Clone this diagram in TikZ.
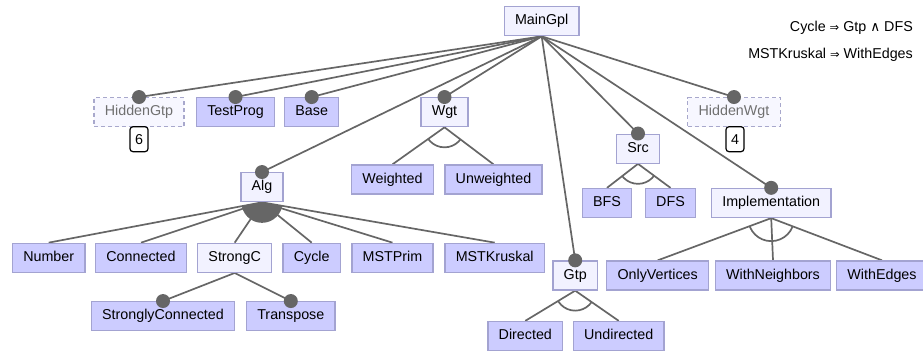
\documentclass[tikz,border=0pt]{standalone}
\usepackage{fontspec}
\setmainfont{Liberation Sans}
\newfontfamily\symfont{DejaVu Sans}[Scale=0.8]
\newfontfamily\andfont{DejaVu Sans}[Scale=0.95]
\usetikzlibrary{backgrounds}
\definecolor{concf}{HTML}{CCCCFF}
\definecolor{abstf}{HTML}{F2F2FF}
\definecolor{hidf}{HTML}{F7F7FF}
\definecolor{bord}{HTML}{A3A3D1}
\definecolor{hidb}{HTML}{A8A8CC}
\definecolor{hidt}{HTML}{707070}
\definecolor{edgec}{HTML}{666666}
\tikzset{
  feat/.style={draw=bord, line width=1.3pt, minimum height=29pt, inner xsep=10.8pt, inner ysep=0pt,
    font=\fontsize{14.3}{17}\selectfont, text height=10.3pt, text depth=3pt},
  conc/.style={feat, fill=concf},
  abst/.style={feat, fill=abstf},
  hid/.style={feat, fill=hidf, draw=hidb, dash pattern=on 4pt off 3pt, text=hidt},
  cnt/.style={draw=black, line width=1.2pt, rounded corners=3pt, fill=white, minimum width=18pt,
    minimum height=25pt, inner sep=0pt, font=\fontsize{14.3}{17}\selectfont},
  con/.style={draw=edgec, line width=1.7pt},
  cstr/.style={anchor=east, inner sep=0pt, font=\fontsize{14.3}{17}\selectfont},
}
\newcommand{\mdot}[1]{\fill[edgec] (#1.north) circle[radius=7pt];}
\begin{document}
\begin{tikzpicture}[x=1pt,y=-1pt]
\useasboundingbox (0,0) rectangle (923,352);
% features
\node[abst] (MainGpl) at (541.7,21.2) {MainGpl};
\node[hid] (HiddenGtp) at (139,112.2) {HiddenGtp};
\node[conc] (TestProg) at (235.5,112.2) {TestProg};
\node[conc] (Base) at (311.7,112.2) {Base};
\node[abst] (Wgt) at (444.5,112.2) {Wgt};
\node[hid] (HiddenWgt) at (734,112.2) {HiddenWgt};
\node[cnt] (c6) at (139,139.2) {6};
\node[cnt] (c4) at (735,139.2) {4};
\node[abst] (Alg) at (262,187.2) {Alg};
\node[conc] (Weighted) at (392.5,179.5) {Weighted};
\node[conc] (Unweighted) at (493.5,179.5) {Unweighted};
\node[abst] (Src) at (638,148.7) {Src};
\node[conc] (BFS) at (607,203) {BFS};
\node[conc] (DFS) at (670.5,203) {DFS};
\node[abst] (Impl) at (771.2,203) {Implementation};
\node[conc] (Number) at (48.7,257.8) {Number};
\node[conc] (Connected) at (141,257.8) {Connected};
\node[abst] (StrongC) at (234.7,257.8) {StrongC};
\node[conc] (Cycle) at (311.7,257.8) {Cycle};
\node[conc] (MSTPrim) at (392.5,257.8) {MSTPrim};
\node[conc] (MSTKruskal) at (494.7,257.8) {MSTKruskal};
\node[abst] (Gtp) at (575.2,275.5) {Gtp};
\node[conc] (OnlyVertices) at (657.7,275.5) {OnlyVertices};
\node[conc] (WithNeighbors) at (773,275.5) {WithNeighbors};
\node[conc] (WithEdges) at (882,275.5) {WithEdges};
\node[conc] (StronglyConnected) at (163,316.2) {StronglyConnected};
\node[conc] (Transpose) at (290.8,316.2) {Transpose};
\node[conc] (Directed) at (525.3,336) {Directed};
\node[conc] (Undirected) at (618.7,336) {Undirected};
% constraints
\node[cstr] (k1) at (913,28) {Cycle {\symfont ⇒} Gtp {\andfont ∧} DFS};
\node[cstr] (k2) at (913,55) {MSTKruskal {\symfont ⇒} WithEdges};
% connectors
\begin{scope}[on background layer]
\foreach \c in {HiddenGtp,TestProg,Base,Alg,Wgt,Gtp,Src,Impl,HiddenWgt}
  \draw[con] (MainGpl.south) -- (\c.north);
\foreach \c in {Number,Connected,StrongC,Cycle,MSTPrim,MSTKruskal}
  \draw[con] (Alg.south) -- (\c.north);
\foreach \c in {Weighted,Unweighted}
  \draw[con] (Wgt.south) -- (\c.north);
\foreach \c in {BFS,DFS}
  \draw[con] (Src.south) -- (\c.north);
\foreach \c in {OnlyVertices,WithNeighbors,WithEdges}
  \draw[con] (Impl.south) -- (\c.north);
\foreach \c in {Directed,Undirected}
  \draw[con] (Gtp.south) -- (\c.north);
\foreach \c in {StronglyConnected,Transpose}
  \draw[con] (StrongC.south) -- (\c.north);
\end{scope}
% mandatory dots
\foreach \c in {HiddenGtp,TestProg,Base,Alg,Wgt,Gtp,Src,Impl,HiddenWgt,StronglyConnected,Transpose}
  {\mdot{\c}}
% or group (filled)
\begin{scope}
  \clip (Alg.south) -- (Number.north) -- (MSTKruskal.north) -- cycle;
  \fill[edgec] (Alg.south) circle[radius=20.5pt];
\end{scope}
% alternative groups (arcs)
\begin{scope}
  \clip (Wgt.south) -- (Weighted.north) -- (Unweighted.north) -- cycle;
  \draw[con] (Wgt.south) circle[radius=20pt];
\end{scope}
\begin{scope}
  \clip (Src.south) -- (BFS.north) -- (DFS.north) -- cycle;
  \draw[con] (Src.south) circle[radius=20pt];
\end{scope}
\begin{scope}
  \clip (Gtp.south) -- (Directed.north) -- (Undirected.north) -- cycle;
  \draw[con] (Gtp.south) circle[radius=20pt];
\end{scope}
\begin{scope}
  \clip (Impl.south) -- (OnlyVertices.north) -- (WithEdges.north) -- cycle;
  \draw[con] (Impl.south) circle[radius=23pt];
\end{scope}
\end{tikzpicture}
\end{document}
